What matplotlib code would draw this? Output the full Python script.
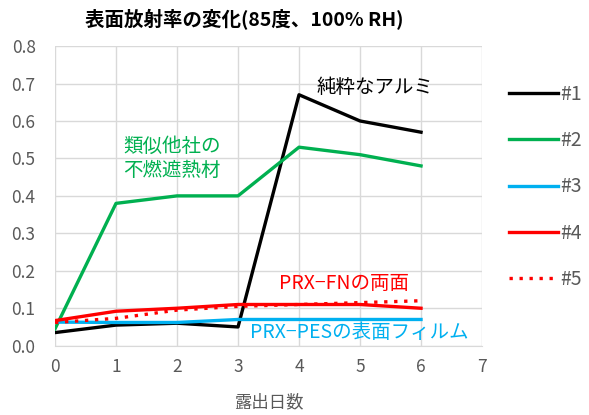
import matplotlib
matplotlib.use("Agg")
import matplotlib.pyplot as plt

plt.rcParams['font.family'] = ['Noto Sans CJK JP', 'DejaVu Sans']

days = [0, 1, 2, 3, 4, 5, 6]
s1 = [0.035, 0.055, 0.06, 0.05, 0.67, 0.60, 0.57]
s2 = [0.045, 0.38, 0.40, 0.40, 0.53, 0.51, 0.48]
s3 = [0.063, 0.062, 0.062, 0.07, 0.07, 0.07, 0.07]
s4 = [0.067, 0.092, 0.10, 0.11, 0.11, 0.11, 0.10]
s5 = [0.062, 0.073, 0.095, 0.105, 0.11, 0.115, 0.12]
labels = ['#1', '#2', '#3', '#4', '#5']
title = '表面放射率の変化(85度、100% RH)'
xlabel = '露出日数'

fig = plt.figure(figsize=(5.89, 4.15), dpi=100)
ax = fig.add_axes([0.0934, 0.167, 0.725, 0.722])

gray = '#595959'
lw = 2.4
ax.plot(days, s1, color='black', lw=lw, label=labels[0])
ax.plot(days, s2, color='#00B050', lw=lw, label=labels[1])
ax.plot(days, s3, color='#00B0F0', lw=lw, label=labels[2])
ax.plot(days, s4, color='#FF0000', lw=lw, label=labels[3])
ax.plot(days, s5, color='#FF0000', lw=lw, ls=(0, (1, 2)), label=labels[4])

ax.set_xlim(0, 7)
ax.set_ylim(0, 0.8)
ax.set_xticks(range(0, 8))
ax.set_yticks([i / 10 for i in range(9)])
ax.set_yticklabels([f'{i/10:.1f}' for i in range(9)])
ax.grid(True, color='#D9D9D9', lw=1)
ax.set_axisbelow(True)
for side in ['top', 'right', 'left']:
    ax.spines[side].set_visible(False)
ax.spines['bottom'].set_color('#D9D9D9')
ax.tick_params(axis='both', length=0, colors=gray, labelsize=12.5)
ax.tick_params(axis='y', pad=14)
ax.tick_params(axis='x', pad=9)

ax.set_xlabel(xlabel, color=gray, fontsize=12.5, labelpad=12)
fig.text(0.415, 0.952, title, ha='center', va='center', fontsize=14, fontweight='bold')

ax.text(4.28, 0.69, '純粋なアルミ', color='black', fontsize=14, va='center')
ax.text(1.12, 0.50, '類似他社の\n不燃遮熱材', color='#00B050', fontsize=14, va='center', linespacing=1.15)
ax.text(3.67, 0.165, 'PRX−FNの両面', color='#FF0000', fontsize=14, va='center')
ax.text(3.2, 0.035, 'PRX−PESの表面フィルム', color='#00B0F0', fontsize=14, va='center')

leg = fig.legend(loc='upper left', bbox_to_anchor=(0.835, 0.84), frameon=False,
                 fontsize=14, handlelength=2.5, labelspacing=1.3, handletextpad=0.1,
                 labelcolor=gray)

fig.savefig('out.png', dpi=100)
